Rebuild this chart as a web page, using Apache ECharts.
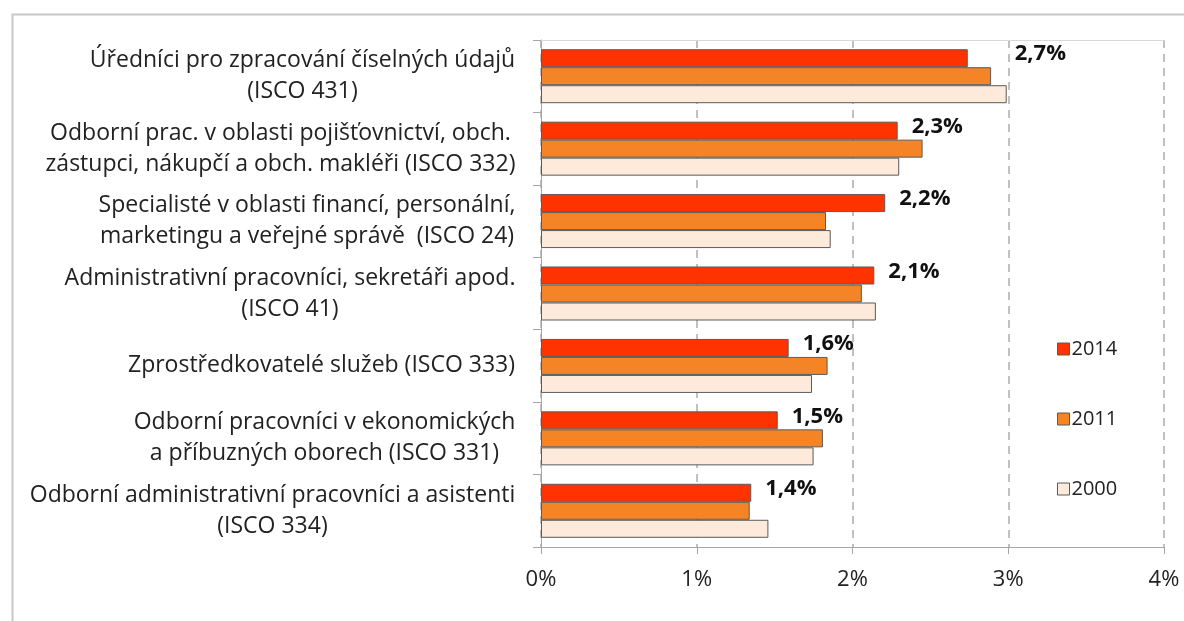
<!DOCTYPE html>
<html>
<head>
<meta charset="utf-8">
<script src="https://cdn.jsdelivr.net/npm/echarts@6/dist/echarts.min.js"></script>
<style>
html,body{margin:0;padding:0;background:#fff;}
#chart{width:1184px;height:621px;}
</style>
</head>
<body>
<div id="chart"></div>
<script>
const categories = [
  "Úředníci pro zpracování číselných údajů\n(ISCO 431)",
  "Odborní prac. v oblasti pojišťovnictví, obch.\nzástupci, nákupčí a obch. makléři (ISCO 332)",
  "Specialisté v oblasti financí, personální,\nmarketingu a veřejné správě  (ISCO 24)",
  "Administrativní pracovníci, sekretáři apod.\n(ISCO 41)",
  "Zprostředkovatelé služeb (ISCO 333)",
  "Odborní pracovníci v ekonomických\na příbuzných oborech (ISCO 331)",
  "Odborní administrativní pracovníci a asistenti\n(ISCO 334)"
];
const seriesNames = ["2014", "2011", "2000"];
const values2014 = [2.74, 2.29, 2.21, 2.14, 1.59, 1.52, 1.35];
const values2011 = [2.89, 2.45, 1.83, 2.06, 1.84, 1.81, 1.34];
const values2000 = [2.99, 2.30, 1.86, 2.15, 1.74, 1.75, 1.46];
const xTicks = [0, 1, 2, 3, 4];

const colors = ["#FF3300", "#F58426", "#FDEADB"];
const font = "'Open Sans', Lato, sans-serif";
const catFontSize = 23;

// build centered multi-line labels (block right-aligned, lines centered)
const ctx = document.createElement('canvas').getContext('2d');
ctx.font = catFontSize + "px 'Open Sans'";
const rich = {};
categories.forEach((c, i) => {
  const w = Math.max(...c.split('\n').map(l => ctx.measureText(l).width));
  rich['l' + i] = {width: Math.ceil(w) + 1, align: 'center', fontFamily: font,
    fontSize: catFontSize, lineHeight: 31, color: '#222'};
});

const chart = echarts.init(document.getElementById('chart'), null, {renderer: 'canvas'});

function labelData(vals) {
  return vals.map((v, i) => i === 0
    ? {value: v, label: {offset: [33, -4]}}
    : {value: v});
}

const barBorder = {borderColor: '#5a5a5a', borderWidth: 1};

chart.setOption({
  animation: false,
  backgroundColor: '#ffffff',
  graphic: [{
    type: 'rect', left: 10, top: 12, shape: {width: 1300, height: 700},
    style: {fill: 'none', stroke: '#c8c8c8', lineWidth: 2}, silent: true
  }],
  grid: {left: 541, right: 20, top: 40, bottom: 74},
  legend: {
    orient: 'vertical', left: 1052, top: 334, itemGap: 50,
    itemWidth: 12, itemHeight: 12, icon: 'rect',
    data: seriesNames,
    textStyle: {fontFamily: font, fontSize: 20, color: '#222', padding: [0, 0, 0, -3]},
    itemStyle: {borderColor: '#5a5a5a', borderWidth: 1}
  },
  xAxis: [{
    type: 'value', min: xTicks[0], max: xTicks[xTicks.length - 1], interval: 1,
    axisLine: {show: true, lineStyle: {color: '#a6a6a6', width: 1}},
    axisTick: {show: true, length: 7, lineStyle: {color: '#a6a6a6'}},
    axisLabel: {formatter: v => v + '%', fontFamily: font, fontSize: 22, color: '#222', margin: 22},
    splitLine: {show: true, lineStyle: {color: '#c0c0c0', type: [8, 6], width: 2}}
  }, {
    type: 'value', position: 'top', min: 0, max: 4,
    axisLine: {show: true, lineStyle: {color: '#d9d9d9', width: 1}},
    axisTick: {show: false}, axisLabel: {show: false}, splitLine: {show: false}
  }],
  yAxis: {
    type: 'category', data: categories, inverse: true,
    axisLine: {show: true, lineStyle: {color: '#a6a6a6', width: 1}},
    axisTick: {show: true, length: 8, lineStyle: {color: '#a6a6a6'}},
    axisLabel: {
      margin: 25, align: 'right', lineHeight: 31,
      formatter: (val, idx) => val.split('\n').map(l => '{l' + idx + '|' + l + '}').join('\n'),
      rich: rich
    }
  },
  series: [
    {
      name: seriesNames[0], type: 'bar', data: labelData(values2014),
      barWidth: 18, barGap: '0%', barCategoryGap: '25%',
      itemStyle: Object.assign({color: colors[0]}, barBorder),
      label: {
        show: true, position: 'right', distance: 14, offset: [0, -4],
        formatter: p => p.value.toFixed(1).replace('.', ',') + '%',
        fontFamily: font, fontSize: 22, fontWeight: 'bold', color: '#111'
      }
    },
    {
      name: seriesNames[1], type: 'bar', data: values2011,
      barWidth: 18, barGap: '0%',
      itemStyle: Object.assign({color: colors[1]}, barBorder)
    },
    {
      name: seriesNames[2], type: 'bar', data: values2000,
      barWidth: 18, barGap: '0%',
      itemStyle: Object.assign({color: colors[2]}, barBorder)
    }
  ]
});
</script>
</body>
</html>
